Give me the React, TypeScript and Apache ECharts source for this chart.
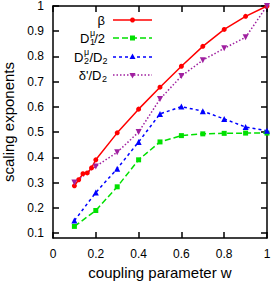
import React, { useEffect, useRef } from "react";
import * as echarts from "echarts";

const wBeta = [0.1, 0.12, 0.14, 0.16, 0.18, 0.2, 0.3, 0.4, 0.5, 0.6, 0.7, 0.8, 0.9, 1.0];
const betaValues = [0.287, 0.311, 0.335, 0.338, 0.358, 0.39, 0.497, 0.591, 0.678, 0.761, 0.84, 0.907, 0.959, 1.0];
const wCoarse = [0.1, 0.2, 0.3, 0.4, 0.5, 0.6, 0.7, 0.8, 0.9, 1.0];
const d1Half = [0.126, 0.189, 0.283, 0.39, 0.461, 0.486, 0.493, 0.495, 0.496, 0.496];
const d2Ratio = [0.149, 0.26, 0.355, 0.461, 0.572, 0.601, 0.583, 0.552, 0.52, 0.505];
const deltaRatio = [0.3, 0.364, 0.42, 0.5, 0.631, 0.722, 0.785, 0.832, 0.876, 1.0];
const xTicks = [0, 0.2, 0.4, 0.6, 0.8, 1];
const yTicks = [0.1, 0.2, 0.3, 0.4, 0.5, 0.6, 0.7, 0.8, 0.9, 1];

const FONT = "'Liberation Sans', Arial, Helvetica, sans-serif";
const RED = "#ff0000";
const GREEN = "#00e000";
const BLUE = "#0000ff";
const PURPLE = "#a020a0";

function pairs(xs: number[], ys: number[]) {
  return xs.map((x, i) => [x, ys[i]]);
}

function axisCommon() {
  return {
    type: "value" as const,
    axisLine: { show: true, onZero: false, lineStyle: { color: "#000", width: 1.5 } },
    splitLine: { show: false },
  };
}

function legendRow(y: number, color: string, dash: any, marker: any[]) {
  return [
    {
      type: "line",
      shape: { x1: 113, y1: y, x2: 152, y2: y },
      style: { stroke: color, lineWidth: 1.5, lineDash: dash },
    },
    ...marker,
  ];
}

function txt(x: number, y: number, text: string, size: number, align: string) {
  return {
    type: "text",
    x,
    y,
    style: {
      text,
      fontSize: size,
      fontFamily: FONT,
      fill: "#000",
      align,
      verticalAlign: "middle",
    },
  };
}

export default function App() {
  const ref = useRef<HTMLDivElement>(null);
  useEffect(() => {
    document.body.style.margin = "0";
    const chart = echarts.init(ref.current!, undefined, { renderer: "svg" });
    const r1 = 20, r2 = 38, r3 = 57, r4 = 75;
    const mx = 132.5;
    chart.setOption({
      animation: false,
      grid: { left: 53, right: 7, top: 6, bottom: 46, outerBoundsMode: "none" },
      xAxis: [
        {
          ...axisCommon(),
          min: 0,
          max: 1,
          position: "bottom",
          axisTick: { inside: true, length: 6, customValues: xTicks, lineStyle: { color: "#000", width: 1.5 } },
          axisLabel: { customValues: xTicks, margin: 10, color: "#000", fontSize: 12, fontFamily: FONT },
          name: "coupling parameter w",
          nameLocation: "middle",
          nameGap: 26,
          nameTextStyle: { color: "#000", fontSize: 15, fontFamily: FONT },
        },
        {
          ...axisCommon(),
          min: 0,
          max: 1,
          position: "top",
          axisTick: { inside: true, length: 6, customValues: xTicks, lineStyle: { color: "#000", width: 1.5 } },
          axisLabel: { show: false },
        },
      ],
      yAxis: [
        {
          ...axisCommon(),
          min: 0.08,
          max: 1,
          position: "left",
          axisTick: { inside: true, length: 6, customValues: yTicks, lineStyle: { color: "#000", width: 1.5 } },
          axisLabel: { customValues: yTicks, margin: 9, color: "#000", fontSize: 12, fontFamily: FONT },
          name: "scaling exponents",
          nameLocation: "middle",
          nameGap: 37,
          nameTextStyle: { color: "#000", fontSize: 15, fontFamily: FONT },
        },
        {
          ...axisCommon(),
          min: 0.08,
          max: 1,
          position: "right",
          axisTick: { inside: true, length: 6, customValues: yTicks, lineStyle: { color: "#000", width: 1.5 } },
          axisLabel: { show: false },
        },
      ],
      series: [
        {
          type: "line",
          name: "beta",
          data: pairs(wBeta, betaValues),
          symbol: "circle",
          symbolSize: 5,
          lineStyle: { color: RED, width: 1.5 },
          itemStyle: { color: RED },
        },
        {
          type: "line",
          name: "D1",
          data: pairs(wCoarse, d1Half),
          symbol: "rect",
          symbolSize: 5,
          lineStyle: { color: GREEN, width: 1.5, type: [6, 3] },
          itemStyle: { color: GREEN },
        },
        {
          type: "line",
          name: "D2",
          data: pairs(wCoarse, d2Ratio),
          symbol: "triangle",
          symbolSize: 6,
          lineStyle: { color: BLUE, width: 1.5, type: [3, 3] },
          itemStyle: { color: BLUE },
        },
        {
          type: "line",
          name: "delta",
          data: pairs(wCoarse, deltaRatio),
          symbol: "triangle",
          symbolRotate: 180,
          symbolSize: 6,
          lineStyle: { color: PURPLE, width: 1.5, type: [1.5, 2] },
          itemStyle: { color: PURPLE },
        },
      ],
      graphic: [
        ...legendRow(r1, RED, null, [
          { type: "circle", shape: { cx: mx, cy: r1, r: 2.5 }, style: { fill: RED } },
        ]),
        ...legendRow(r2, GREEN, [6, 3], [
          { type: "rect", shape: { x: mx - 2.5, y: r2 - 2.5, width: 5, height: 5 }, style: { fill: GREEN } },
        ]),
        ...legendRow(r3, BLUE, [3, 3], [
          { type: "polygon", shape: { points: [[mx, r3 - 3.5], [mx + 3, r3 + 2], [mx - 3, r3 + 2]] }, style: { fill: BLUE } },
        ]),
        ...legendRow(r4, PURPLE, [1.5, 2], [
          { type: "polygon", shape: { points: [[mx, r4 + 3.5], [mx + 3, r4 - 2], [mx - 3, r4 - 2]] }, style: { fill: PURPLE } },
        ]),
        txt(105, r1, "β", 13, "right"),
        txt(89.5, r2, "D", 13, "right"),
        txt(90, r2 - 5, "μ", 9, "left"),
        txt(90, r2 + 4, "1", 9, "left"),
        txt(105, r2, "/2", 13, "right"),
        txt(83.5, r3, "D", 13, "right"),
        txt(84, r3 - 5, "μ", 9, "left"),
        txt(84, r3 + 4, "2", 9, "left"),
        txt(89.5, r3, "/D", 13, "left"),
        txt(102.5, r3 + 4, "2", 9, "left"),
        txt(101.5, r4, "δ'/D", 13, "right"),
        txt(102, r4 + 4, "2", 9, "left"),
      ],
    });
    return () => chart.dispose();
  }, []);
  return <div ref={ref} style={{ width: 274, height: 284 }} />;
}
